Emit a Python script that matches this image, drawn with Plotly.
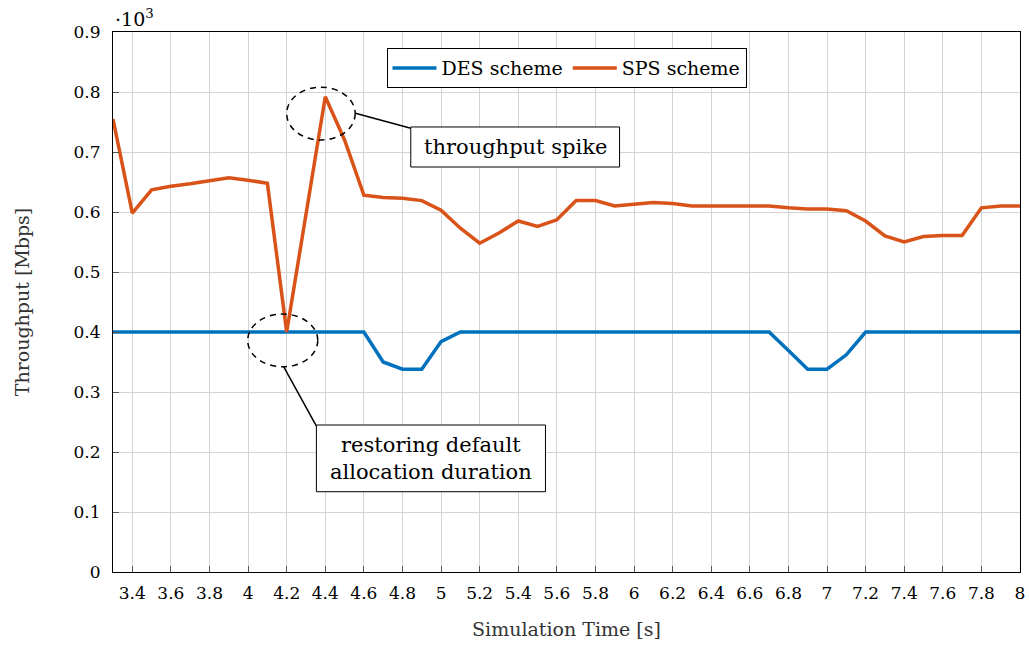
import plotly.graph_objects as go

# ---- data (values in units of 10^3 Mbps) ----
time_s = [3.3, 3.4, 3.5, 3.6, 3.7, 3.8, 3.9, 4.0, 4.1, 4.2, 4.3, 4.4, 4.5, 4.6, 4.7, 4.8, 4.9,
          5.0, 5.1, 5.2, 5.3, 5.4, 5.5, 5.6, 5.7, 5.8, 5.9, 6.0, 6.1, 6.2, 6.3, 6.4, 6.5,
          6.6, 6.7, 6.8, 6.9, 7.0, 7.1, 7.2, 7.3, 7.4, 7.5, 7.6, 7.7, 7.8, 7.9, 8.0]
des_scheme = [0.4, 0.4, 0.4, 0.4, 0.4, 0.4, 0.4, 0.4, 0.4, 0.4, 0.4, 0.4, 0.4, 0.4, 0.350, 0.338, 0.338,
              0.384, 0.4, 0.4, 0.4, 0.4, 0.4, 0.4, 0.4, 0.4, 0.4, 0.4, 0.4, 0.4, 0.4, 0.4, 0.4,
              0.4, 0.4, 0.369, 0.338, 0.338, 0.362, 0.4, 0.4, 0.4, 0.4, 0.4, 0.4, 0.4, 0.4, 0.4]
sps_scheme = [0.755, 0.598, 0.637, 0.643, 0.647, 0.652, 0.657, 0.653, 0.648, 0.400, 0.595, 0.792, 0.720, 0.628, 0.624, 0.623, 0.619,
              0.603, 0.573, 0.548, 0.565, 0.585, 0.576, 0.587, 0.619, 0.619, 0.610, 0.613, 0.616, 0.614, 0.610, 0.610, 0.610,
              0.610, 0.610, 0.607, 0.605, 0.605, 0.602, 0.585, 0.560, 0.550, 0.559, 0.561, 0.561, 0.607, 0.610, 0.610]

x_ticks = [3.4, 3.6, 3.8, 4.0, 4.2, 4.4, 4.6, 4.8, 5.0, 5.2, 5.4, 5.6, 5.8, 6.0, 6.2, 6.4, 6.6, 6.8,
           7.0, 7.2, 7.4, 7.6, 7.8, 8.0]
x_tick_labels = ["3.4", "3.6", "3.8", "4", "4.2", "4.4", "4.6", "4.8", "5", "5.2", "5.4", "5.6", "5.8",
                 "6", "6.2", "6.4", "6.6", "6.8", "7", "7.2", "7.4", "7.6", "7.8", "8"]
y_ticks = [0, 0.1, 0.2, 0.3, 0.4, 0.5, 0.6, 0.7, 0.8, 0.9]
y_tick_labels = ["0", "0.1", "0.2", "0.3", "0.4", "0.5", "0.6", "0.7", "0.8", "0.9"]

# ---- annotation geometry (data coords) ----
spike_ellipse = dict(x0=4.20, x1=4.555, y0=0.72, y1=0.808)
spike_leader = dict(x0=4.556, y0=0.7645, x1=4.843, y1=0.7395)
spike_box = dict(x0=4.843, x1=5.925, y0=0.675, y1=0.7417)
restore_ellipse = dict(x0=3.998, x1=4.361, y0=0.342, y1=0.43)
restore_leader = dict(x0=4.185, y0=0.342, x1=4.354, y1=0.2433)
restore_box = dict(x0=4.354, x1=5.541, y0=0.1338, y1=0.245)

FONT = "DejaVu Serif"
BLUE = "#0072BD"
ORANGE = "#D95319"

fig = go.Figure()
fig.add_trace(go.Scatter(x=time_s, y=des_scheme, mode="lines", name="DES scheme",
                         line=dict(color=BLUE, width=3.5)))
fig.add_trace(go.Scatter(x=time_s, y=sps_scheme, mode="lines", name="SPS scheme",
                         line=dict(color=ORANGE, width=3.5)))

shapes = []
for e in (spike_ellipse, restore_ellipse):
    shapes.append(dict(type="circle", xref="x", yref="y", **e,
                       line=dict(color="black", width=1.5, dash="6px,5px"), layer="above"))
for l in (spike_leader, restore_leader):
    shapes.append(dict(type="line", xref="x", yref="y", **l,
                       line=dict(color="black", width=1.5), layer="above"))
for b in (spike_box, restore_box):
    shapes.append(dict(type="rect", xref="x", yref="y", **b, fillcolor="white",
                       line=dict(color="black", width=1), layer="above"))

annotations = [
    dict(x=(spike_box["x0"] + spike_box["x1"]) / 2, y=(spike_box["y0"] + spike_box["y1"]) / 2,
         xref="x", yref="y", text="throughput spike", showarrow=False,
         font=dict(family=FONT, size=21, color="black")),
    dict(x=(restore_box["x0"] + restore_box["x1"]) / 2, y=(restore_box["y0"] + restore_box["y1"]) / 2,
         xref="x", yref="y", text="restoring default<br>allocation duration", showarrow=False,
         font=dict(family=FONT, size=21, color="black")),
    dict(x=0, y=1, xref="paper", yref="paper", xanchor="left", yanchor="bottom",
         text="·10<sup>3</sup>", showarrow=False, yshift=0,
         font=dict(family=FONT, size=19, color="black")),
]

fig.update_layout(
    width=1029, height=645,
    margin=dict(l=113, r=9, t=32, b=73),
    paper_bgcolor="white", plot_bgcolor="white",
    font=dict(family=FONT, size=17, color="black"),
    shapes=shapes, annotations=annotations,
    showlegend=True,
    legend=dict(orientation="h", x=0.5, y=0.97, xanchor="center", yanchor="top",
                bordercolor="black", borderwidth=1, bgcolor="white",
                font=dict(family=FONT, size=19, color="black"),
                itemwidth=44, tracegroupgap=0),
)
fig.update_xaxes(range=[3.3, 8], tickvals=x_ticks, ticktext=x_tick_labels,
                 showgrid=True, gridcolor="#d3d3d3", gridwidth=1,
                 showline=True, linecolor="black", linewidth=1, mirror=True,
                 ticks="inside", ticklen=6, tickcolor="#555", ticklabelstandoff=6,
                 zeroline=False, automargin=False, tickfont=dict(family=FONT, size=17),
                 title=dict(text="Simulation Time [s]", standoff=20,
                            font=dict(family=FONT, size=19, color="#333")))
fig.update_yaxes(range=[0, 0.9], tickvals=y_ticks, ticktext=y_tick_labels,
                 showgrid=True, gridcolor="#d3d3d3", gridwidth=1,
                 showline=True, linecolor="black", linewidth=1, mirror=True,
                 ticks="inside", ticklen=6, tickcolor="#555", ticklabelstandoff=8,
                 zeroline=False, automargin=False, tickfont=dict(family=FONT, size=17),
                 title=dict(text="Throughput [Mbps]", standoff=38,
                            font=dict(family=FONT, size=19, color="#333")))

fig.write_html("out.html", config={"displayModeBar": False},
               post_script="document.body.style.margin='0';")
